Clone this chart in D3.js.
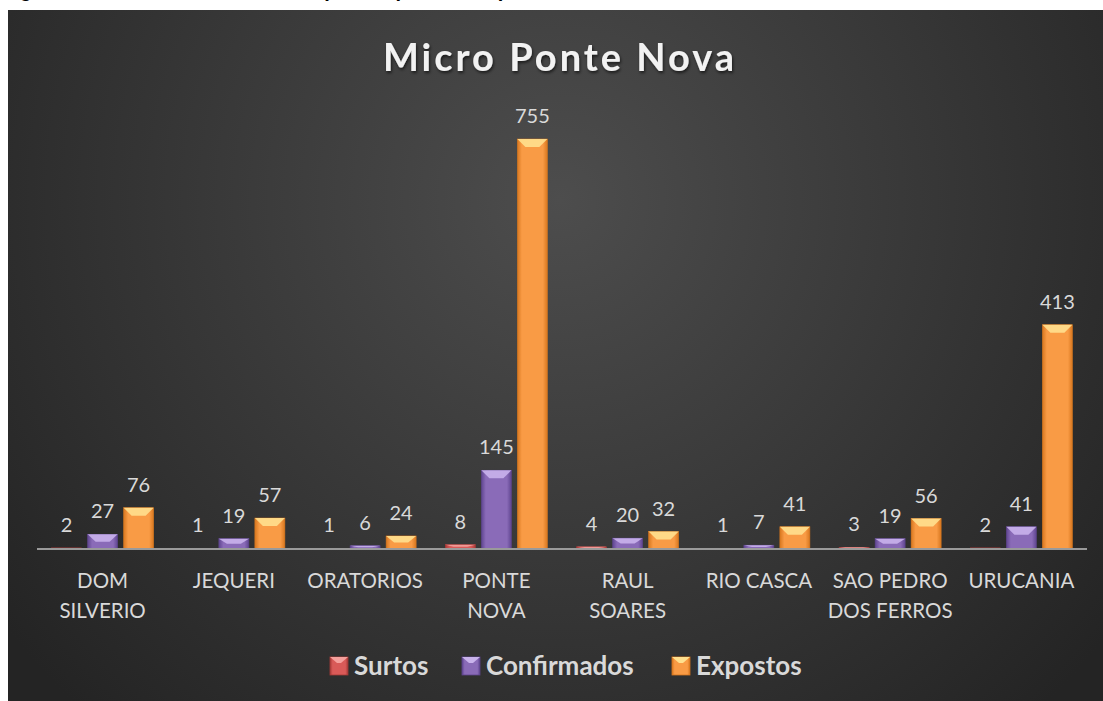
<!DOCTYPE html>
<html>
<head>
<meta charset="utf-8">
<script src="https://cdn.jsdelivr.net/npm/d3@7"></script>
<style>
  html, body { margin: 0; padding: 0; background: #fff; }
  svg { display: block; }
</style>
</head>
<body>
<div id="chart"></div>
<script>
  'use strict';

  var chartTitle = 'Micro Ponte Nova';
  var captionText = 'Figura – Surtos, confirmados e expostos por município, Micro Ponte Nova';
  var categories = ['DOM SILVERIO', 'JEQUERI', 'ORATORIOS', 'PONTE NOVA', 'RAUL SOARES', 'RIO CASCA', 'SAO PEDRO DOS FERROS', 'URUCANIA'];
  var categoryLines = [['DOM', 'SILVERIO'], ['JEQUERI'], ['ORATORIOS'], ['PONTE', 'NOVA'], ['RAUL', 'SOARES'], ['RIO CASCA'], ['SAO PEDRO', 'DOS FERROS'], ['URUCANIA']];
  var seriesNames = ['Surtos', 'Confirmados', 'Expostos'];
  var surtos = [2, 1, 1, 8, 4, 1, 3, 2];
  var confirmados = [27, 19, 6, 145, 20, 7, 19, 41];
  var expostos = [76, 57, 24, 755, 32, 41, 56, 413];
  var yMax = 800;

  var W = 1103, H = 701;
  var font = 'Lato, "Open Sans", sans-serif';

  var seriesColors = {
    Surtos: { base: '#d95a58', dark: '#a83a38', light: '#f4a09c' },
    Confirmados: { base: '#8a6bb8', dark: '#5f4590', light: '#c9b3ec' },
    Expostos: { base: '#f99b45', dark: '#d8771f', light: '#ffe08e' }
  };

  var seriesValues = { Surtos: surtos, Confirmados: confirmados, Expostos: expostos };

  var svg = d3.select('#chart').append('svg')
    .attr('width', W)
    .attr('height', H);

  var defs = svg.append('defs');

  var bg = defs.append('radialGradient')
    .attr('id', 'bgGrad')
    .attr('gradientUnits', 'userSpaceOnUse')
    .attr('cx', 560).attr('cy', 200).attr('r', 700);
  bg.append('stop').attr('offset', '0%').attr('stop-color', '#4d4d4d');
  bg.append('stop').attr('offset', '100%').attr('stop-color', '#242424');

  seriesNames.forEach(function (s, i) {
    var c = seriesColors[s];
    var g = defs.append('linearGradient')
      .attr('id', 'barGrad' + i)
      .attr('x1', '0%').attr('x2', '100%').attr('y1', '0%').attr('y2', '0%');
    g.append('stop').attr('offset', '0%').attr('stop-color', c.dark);
    g.append('stop').attr('offset', '15%').attr('stop-color', c.base);
    g.append('stop').attr('offset', '85%').attr('stop-color', c.base);
    g.append('stop').attr('offset', '100%').attr('stop-color', c.dark);
  });

  var shadow = defs.append('filter').attr('id', 'txtShadow')
    .attr('x', '-10%').attr('y', '-20%').attr('width', '120%').attr('height', '150%');
  shadow.append('feDropShadow')
    .attr('dx', 1).attr('dy', 2).attr('stdDeviation', 1.5)
    .attr('flood-color', '#000').attr('flood-opacity', 0.6);

  // caption above the chart, cut off by the page edge (as in the source)
  svg.append('text')
    .attr('x', 2)
    .attr('y', -3)
    .attr('font-family', '"Liberation Sans", sans-serif')
    .attr('font-weight', 'bold')
    .attr('font-size', 20)
    .attr('fill', '#000')
    .text(captionText);

  svg.append('rect')
    .attr('x', 8).attr('y', 10)
    .attr('width', W - 8).attr('height', H - 10)
    .attr('fill', 'url(#bgGrad)');

  svg.append('text')
    .attr('x', 560)
    .attr('y', 71)
    .attr('text-anchor', 'middle')
    .attr('font-family', font)
    .attr('font-weight', 'bold')
    .attr('font-size', 38)
    .attr('letter-spacing', 3)
    .attr('fill', '#f2f2f2')
    .attr('filter', 'url(#txtShadow)')
    .text(chartTitle);

  var x0 = d3.scaleBand()
    .domain(categories)
    .range([37, 1087])
    .paddingInner(0)
    .paddingOuter(0);

  var x1 = d3.scaleBand()
    .domain(seriesNames)
    .range([0, x0.bandwidth()])
    .paddingInner(1 / 6)
    .paddingOuter(0.406);

  var y = d3.scaleLinear()
    .domain([0, yMax])
    .range([549, 549 - 0.543 * yMax]);

  var rows = categories.map(function (c, i) {
    return seriesNames.map(function (s, j) {
      return { cat: c, series: s, idx: j, value: seriesValues[s][i] };
    });
  });

  var groups = svg.append('g').selectAll('g.cat')
    .data(rows)
    .enter()
    .append('g')
    .attr('class', 'cat')
    .attr('transform', function (d, i) { return 'translate(' + x0(categories[i]) + ',0)'; });

  var bars = groups.selectAll('g.bar')
    .data(function (d) { return d; })
    .enter()
    .append('g')
    .attr('class', 'bar');

  bars.append('rect')
    .attr('x', function (d) { return x1(d.series); })
    .attr('y', function (d) { return y(d.value); })
    .attr('width', x1.bandwidth())
    .attr('height', function (d) { return y(0) - y(d.value); })
    .attr('fill', function (d) { return 'url(#barGrad' + d.idx + ')'; })
    .attr('stroke', function (d) { return seriesColors[d.series].dark; })
    .attr('stroke-width', 0.6);

  // bevel on top of each bar
  bars.append('path')
    .attr('d', function (d) {
      var bx = x1(d.series), bw = x1.bandwidth();
      var top = y(d.value);
      var h = Math.min(8, (y(0) - top) / 2);
      var inset = Math.min(8, bw / 2);
      return 'M' + bx + ',' + top +
        'L' + (bx + bw) + ',' + top +
        'L' + (bx + bw - inset) + ',' + (top + h) +
        'L' + (bx + inset) + ',' + (top + h) + 'Z';
    })
    .attr('fill', function (d) { return seriesColors[d.series].light; })
    .attr('opacity', 0.9);

  bars.append('text')
    .attr('x', function (d) { return x1(d.series) + x1.bandwidth() / 2; })
    .attr('y', function (d) { return y(d.value) - 16; })
    .attr('text-anchor', 'middle')
    .attr('font-family', font)
    .attr('font-size', 20)
    .attr('fill', '#d9d9d9')
    .text(function (d) { return d.value; });

  // axis baseline
  svg.append('line')
    .attr('x1', 37).attr('x2', 1087)
    .attr('y1', y(0)).attr('y2', y(0))
    .attr('stroke', '#9a9a9a')
    .attr('stroke-width', 2);

  var xAxis = d3.axisBottom(x0).tickSize(0).tickPadding(0).tickFormat('');
  var axisG = svg.append('g')
    .attr('transform', 'translate(0,' + y(0) + ')')
    .call(xAxis);
  axisG.select('.domain').remove();

  axisG.selectAll('.tick')
    .append('text')
    .attr('text-anchor', 'middle')
    .attr('font-family', font)
    .attr('font-size', 20.5)
    .attr('fill', '#d9d9d9')
    .each(function (d) {
      var lines = categoryLines[categories.indexOf(d)];
      var t = d3.select(this);
      lines.forEach(function (ln, k) {
        t.append('tspan')
          .attr('x', 0)
          .attr('y', 39 + k * 30)
          .text(ln);
      });
    });

  // legend
  var legendX = [330, 462, 672];
  var legend = svg.append('g').selectAll('g.leg')
    .data(seriesNames)
    .enter()
    .append('g')
    .attr('class', 'leg')
    .attr('transform', function (d, i) { return 'translate(' + legendX[i] + ',657)'; });

  legend.append('rect')
    .attr('width', 18).attr('height', 18)
    .attr('fill', function (d, i) { return 'url(#barGrad' + i + ')'; })
    .attr('stroke', function (d) { return seriesColors[d].dark; })
    .attr('stroke-width', 0.8);

  legend.append('path')
    .attr('d', 'M0,0L18,0L11,6L7,6Z')
    .attr('fill', function (d) { return seriesColors[d].light; });

  legend.append('text')
    .attr('x', 24)
    .attr('y', 18)
    .attr('font-family', font)
    .attr('font-weight', 'bold')
    .attr('font-size', 26)
    .attr('fill', '#d9d9d9')
    .text(function (d) { return d; });
</script>
</body>
</html>
